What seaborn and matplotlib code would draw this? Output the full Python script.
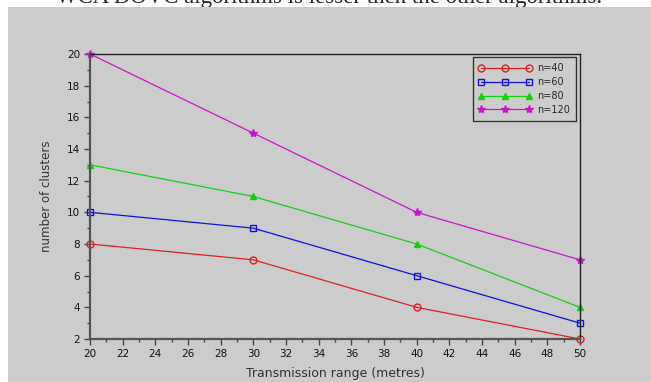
import pandas as pd
import matplotlib
matplotlib.use("Agg")
import matplotlib.pyplot as plt
import seaborn as sns
from matplotlib.patches import Rectangle
from matplotlib.ticker import MultipleLocator

# data
transmission_range = [20, 30, 40, 50]
clusters_n40 = [8, 7, 4, 2]
clusters_n60 = [10, 9, 6, 3]
clusters_n80 = [13, 11, 8, 4]
clusters_n120 = [20, 15, 10, 7]
series_labels = ["n=40", "n=60", "n=80", "n=120"]

series = [clusters_n40, clusters_n60, clusters_n80, clusters_n120]
colors = ["#e02020", "#1010e0", "#10d010", "#d010d0"]
markers = ["o", "s", "^", "*"]
open_face = [True, True, False, False]
msizes = [5, 5, 4, 6]

sns.set_style("ticks")
plt.rcParams["font.family"] = ["DejaVu Sans"]

bg = "#cccccc"
fig = plt.figure(figsize=(6.51, 3.82), dpi=100)
fig.patch.set_facecolor("white")
fig.patches.append(Rectangle((8 / 651, 0), 1, 1 - 7 / 382, transform=fig.transFigure,
                             facecolor=bg, edgecolor="none", zorder=-5))
fig.text(56 / 651, 1 - 3 / 382, "WCA DOVC algorithms is lesser then the other algorithms.",
         family="Liberation Serif", fontsize=16.5, va="baseline", ha="left", zorder=-6)

ax = fig.add_axes([90 / 651, 1 - 339 / 382, 490 / 651, 285 / 382])
ax.set_facecolor(bg)

for vals, lab, c, m, of, ms in zip(series, series_labels, colors, markers, open_face, msizes):
    df = pd.DataFrame({"range": transmission_range, "clusters": vals})
    sns.lineplot(data=df, x="range", y="clusters", ax=ax, color=c, linewidth=0.9,
                 marker=m, markersize=ms, markeredgecolor=c,
                 markerfacecolor="none" if of else c, markeredgewidth=1.0,
                 label=lab, clip_on=False)

ax.set_xlim(20, 50)
ax.set_ylim(2, 20)
ax.xaxis.set_major_locator(MultipleLocator(2))
ax.xaxis.set_minor_locator(MultipleLocator(1))
ax.yaxis.set_major_locator(MultipleLocator(2))
ax.yaxis.set_minor_locator(MultipleLocator(1))
ax.tick_params(axis="both", which="major", length=4, width=1, labelsize=7.5,
               color="#444444", labelcolor="#111111", pad=3)
ax.tick_params(axis="both", which="minor", length=2, width=1, color="#444444")

for s in ["left", "bottom"]:
    ax.spines[s].set_linewidth(1.6)
    ax.spines[s].set_color("#555555")
for s in ["top", "right"]:
    ax.spines[s].set_linewidth(1.0)
    ax.spines[s].set_color("#222222")

ax.set_xlabel("Transmission range (metres)", fontsize=9, color="#333333", labelpad=6)
ax.set_ylabel("number of clusters", fontsize=8.5, color="#333333", labelpad=10)

leg = ax.legend(loc="upper right", numpoints=3, fontsize=7, frameon=True, fancybox=False,
                handlelength=5.5, borderpad=0.6, labelspacing=0.4, handletextpad=0.5,
                bbox_to_anchor=(0.995, 0.995), borderaxespad=0.2)
leg.get_frame().set_facecolor(bg)
leg.get_frame().set_edgecolor("#333333")
leg.get_frame().set_linewidth(1.0)
leg.get_frame().set_alpha(1)
for h, c in zip(leg.legend_handles, colors):
    h.set_markeredgecolor(c)

fig.savefig("out.png", dpi=100, facecolor=fig.get_facecolor())
